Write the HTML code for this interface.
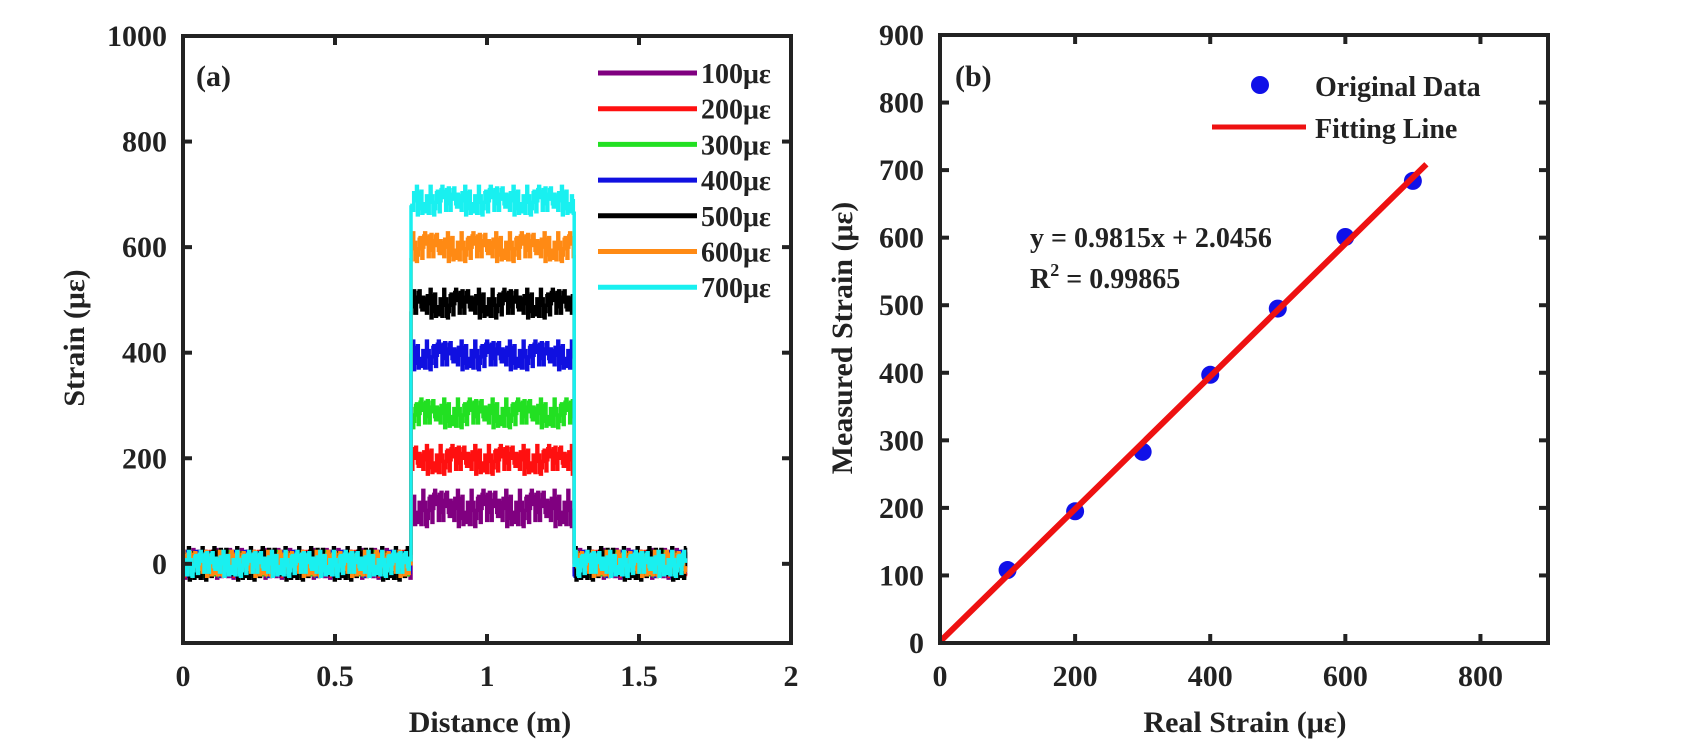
<!DOCTYPE html>
<html><head><meta charset="utf-8"><style>
body{margin:0;background:#fff;}
svg{display:block;font-family:"Liberation Serif",serif;font-weight:bold;}
</style></head><body>
<svg id="fig" width="1702" height="756" viewBox="0 0 1702 756">
<g id="pa"></g>
<g id="pb"></g>
</svg>
<script>
// Panel (a) data
const seriesLabels = ["100με","200με","300με","400με","500με","600με","700με"];
const seriesColors = ["#800080","#ff1010","#22e022","#1010e0","#000000","#ff8a14","#19f0f0"];
const plateauLevels = [105, 197, 285, 395, 493, 600, 688];
const plateauStart = 0.748, plateauEnd = 1.285, fiberEnd = 1.655;
const jitter = [0.3,-0.6,0.9,-0.2,0.1,-0.8,0.5,0.2,-0.4,0.7,-0.9,0.0,0.4,-0.3,0.8,-0.5,0.1,0.6,-0.7,0.2,-0.1,0.9,-0.6,0.3,-0.2,0.5,-0.9,0.7,0.0,-0.4,0.6,-0.3,0.2,-0.8,0.4,0.1,-0.5,0.8,-0.1,0.3,-0.7,0.5,-0.2,0.9,-0.4,0.0,0.6,-0.6,0.2,-0.3,0.7,-0.8,0.4];
const xTicksA = [0,0.5,1,1.5,2];
const xTickLabelsA = ["0","0.5","1","1.5","2"];
const yTicksA = [0,200,400,600,800,1000];
// Panel (b) data
const realStrain = [100,200,300,400,500,600,700];
const measuredStrain = [108,195,283,397,495,601,684];
const fitSlope = 0.9815, fitIntercept = 2.0456, fitXMax = 720;
const xTicksB = [0,200,400,600,800];
const yTicksB = [0,100,200,300,400,500,600,700,800,900];

const NS="http://www.w3.org/2000/svg";
function mk(parent, tag, attrs, text){const e=document.createElementNS(NS,tag);for(const k in attrs)e.setAttribute(k,attrs[k]);if(text!==undefined)e.textContent=text;parent.appendChild(e);return e;}

// ---------- Panel A ----------
const pa=document.getElementById('pa');
const axA={l:183,r:791,t:36,b:643,x0:0,x1:2,y0:-150,y1:1000};
const xA=v=>axA.l+(v-axA.x0)/(axA.x1-axA.x0)*(axA.r-axA.l);
const yA=v=>axA.b-(v-axA.y0)/(axA.y1-axA.y0)*(axA.b-axA.t);

seriesLabels.forEach((lab,s)=>{
  let pts=[];
  const amp=(s===4)?34:(s===0?30:26);
  let i=0;
  for(let x=0;x<=fiberEnd+1e-9;x+=0.003,i++){
    const inPl = x>=plateauStart && x<=plateauEnd;
    const base = inPl?plateauLevels[s]:0;
    const a = inPl?(s===0?38:30):amp;
    const j = jitter[(i*5+s*11)%jitter.length];
    const y=yA(base+j*a);
    pts.push(xA(x).toFixed(1)+","+y.toFixed(1));
    pts.push(xA(x+0.003).toFixed(1)+","+y.toFixed(1));
  }
  const pl=mk(pa,'polyline',{points:pts.join(' '),fill:'none',stroke:seriesColors[s],'stroke-width':3.5,'stroke-linejoin':'miter'});
  
  
});

const boxA=mk(pa,'rect',{x:axA.l,y:axA.t,width:axA.r-axA.l,height:axA.b-axA.t,fill:'none',stroke:'#222','stroke-width':4});


xTicksA.forEach((v,i)=>{
  const x=xA(v);
  mk(pa,'line',{x1:x,y1:axA.b,x2:x,y2:axA.b-9,stroke:'#222','stroke-width':4});
  mk(pa,'line',{x1:x,y1:axA.t,x2:x,y2:axA.t+9,stroke:'#222','stroke-width':4});
  const t=mk(pa,'text',{x:x,y:686,'font-size':30,'text-anchor':'middle',fill:'#222'},xTickLabelsA[i]);
  
  
});
yTicksA.forEach(v=>{
  const y=yA(v);
  mk(pa,'line',{x1:axA.l,y1:y,x2:axA.l+9,y2:y,stroke:'#222','stroke-width':4});
  mk(pa,'line',{x1:axA.r,y1:y,x2:axA.r-9,y2:y,stroke:'#222','stroke-width':4});
  const t=mk(pa,'text',{x:axA.l-16,y:y+10,'font-size':30,'text-anchor':'end',fill:'#222'},String(v));
  
  
});
let t=mk(pa,'text',{x:490,y:732,'font-size':30,'text-anchor':'middle',fill:'#222'},'Distance (m)');

t=mk(pa,'text',{x:0,y:0,'font-size':30,'text-anchor':'middle',fill:'#222',transform:'translate(84,338) rotate(-90)'},'Strain (με)');

t=mk(pa,'text',{x:196,y:86,'font-size':30,fill:'#222'},'(a)');

seriesLabels.forEach((lab,s)=>{
  const y=73+s*35.7;
  const g=mk(pa,'g',{});
  
  
  mk(g,'line',{x1:598,y1:y,x2:697,y2:y,stroke:seriesColors[s],'stroke-width':5});
  mk(g,'text',{x:701,y:y+10,'font-size':28,fill:'#222'},lab);
});

// ---------- Panel B ----------
const pb=document.getElementById('pb');
const axB={l:940,r:1548,t:35,b:643,x0:0,x1:900,y0:0,y1:900};
const xB=v=>axB.l+(v-axB.x0)/(axB.x1-axB.x0)*(axB.r-axB.l);
const yB=v=>axB.b-(v-axB.y0)/(axB.y1-axB.y0)*(axB.b-axB.t);

realStrain.forEach((r,i)=>{
  const c=mk(pb,'circle',{cx:xB(r),cy:yB(measuredStrain[i]),r:9,fill:'#1010e8'});
  
  
});
const fl=mk(pb,'line',{x1:xB(0),y1:yB(fitIntercept),x2:xB(fitXMax),y2:yB(fitSlope*fitXMax+fitIntercept),stroke:'#ee1111','stroke-width':6});



const boxB=mk(pb,'rect',{x:axB.l,y:axB.t,width:axB.r-axB.l,height:axB.b-axB.t,fill:'none',stroke:'#222','stroke-width':4});


xTicksB.forEach(v=>{
  const x=xB(v);
  mk(pb,'line',{x1:x,y1:axB.b,x2:x,y2:axB.b-9,stroke:'#222','stroke-width':4});
  mk(pb,'line',{x1:x,y1:axB.t,x2:x,y2:axB.t+9,stroke:'#222','stroke-width':4});
  const t=mk(pb,'text',{x:x,y:686,'font-size':30,'text-anchor':'middle',fill:'#222'},String(v));
  
  
});
yTicksB.forEach(v=>{
  const y=yB(v);
  mk(pb,'line',{x1:axB.l,y1:y,x2:axB.l+9,y2:y,stroke:'#222','stroke-width':4});
  mk(pb,'line',{x1:axB.r,y1:y,x2:axB.r-9,y2:y,stroke:'#222','stroke-width':4});
  const t=mk(pb,'text',{x:axB.l-16,y:y+10,'font-size':30,'text-anchor':'end',fill:'#222'},String(v));
  
  
});
t=mk(pb,'text',{x:1245,y:732,'font-size':30,'text-anchor':'middle',fill:'#222'},'Real Strain (με)');

t=mk(pb,'text',{x:0,y:0,'font-size':30,'text-anchor':'middle',fill:'#222',transform:'translate(852,338) rotate(-90)'},'Measured Strain (με)');

t=mk(pb,'text',{x:955,y:86,'font-size':30,fill:'#222'},'(b)');

t=mk(pb,'text',{x:1030,y:247,'font-size':28,fill:'#222'},'y = 0.9815x + 2.0456');

t=mk(pb,'text',{x:1030,y:288,'font-size':28,fill:'#222'},'R');

mk(t,'tspan',{dy:-12,'font-size':18},'2');
mk(t,'tspan',{dy:12},' = 0.99865');
let g=mk(pb,'g',{});

mk(g,'circle',{cx:1260,cy:85,r:9,fill:'#1010e8'});
mk(g,'text',{x:1315,y:96,'font-size':28,fill:'#222'},'Original Data');
g=mk(pb,'g',{});

mk(g,'line',{x1:1212,y1:127,x2:1306,y2:127,stroke:'#ee1111','stroke-width':5});
mk(g,'text',{x:1315,y:138,'font-size':28,fill:'#222'},'Fitting Line');
</script>
</body></html>
